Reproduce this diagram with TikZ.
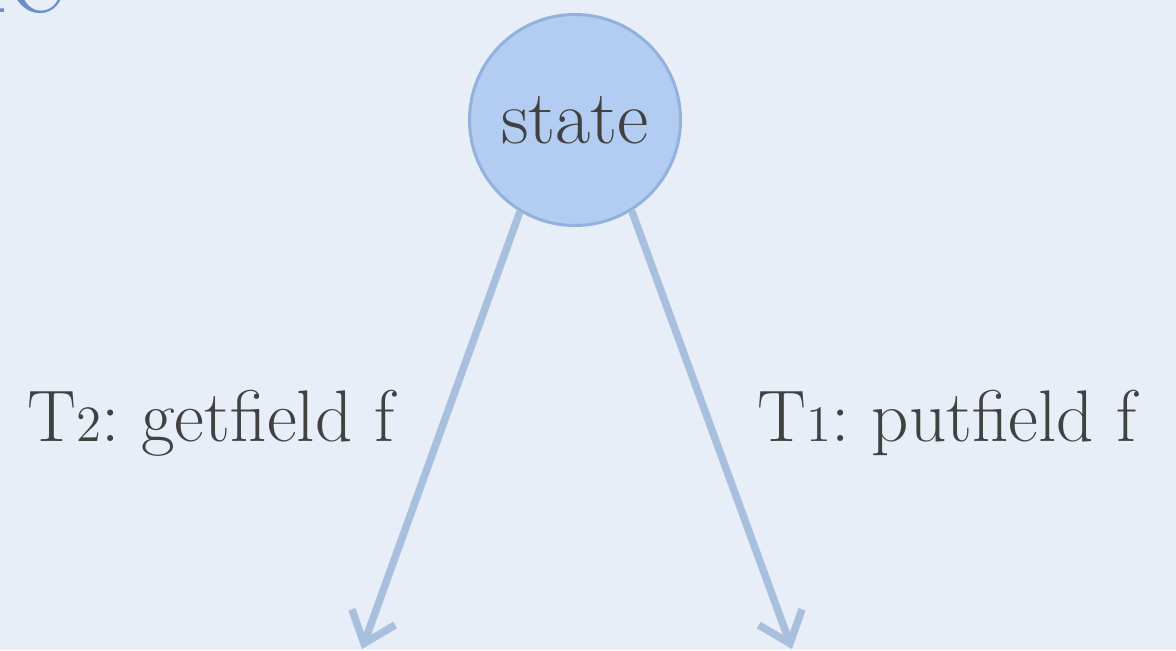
\documentclass[tikz,border=0pt]{standalone}
\usetikzlibrary{arrows.meta,positioning}
\frenchspacing

\definecolor{paper}{HTML}{E7EEF7}
\definecolor{statefill}{HTML}{B2CDF1}
\definecolor{stateline}{HTML}{93B1DC}
\definecolor{arrowblue}{HTML}{A9BFDE}
\definecolor{textgrey}{HTML}{414141}
\definecolor{titleblue}{HTML}{6C8DC9}

\begin{document}
\begin{tikzpicture}[
    state node/.style={circle,fill=statefill,draw=stateline,line width=0.03cm,
        minimum size=2.11cm,inner sep=0pt,text=textgrey,font=\fontsize{21.8}{26}\selectfont},
    label node/.style={text=textgrey,font=\fontsize{20.8}{25}\selectfont,inner sep=0pt},
    arrow/.style={draw=arrowblue,line width=0.075cm,
        -{Straight Barb[length=0.28cm,width=0.46cm]}}
]

% Hintergrund
\useasboundingbox[fill=paper] (0,0) rectangle (11.76,6.50);

% Titel (abgeschnitten)
\node[anchor=base east,text=titleblue,font=\fontsize{40}{44}\selectfont,inner sep=0pt]
    (title) at (0.66,6.37) {le};

% Zustand
\node[state node] (state) at (5.75,5.30) {state};

% Pfeilspitzen
\coordinate (left end) at (3.62,0.01);
\coordinate (right end) at (7.92,0.01);

% Uebergaenge
\draw[arrow] (state.239) -- (left end);
\draw[arrow] (state.302) -- (right end);

% Beschriftungen
\node[label node] (getfield) at (2.11,2.27) {T{\fontsize{14.5}{17}\selectfont 2}: getfield f};
\node[label node] (putfield) at (9.47,2.27) {T{\fontsize{14.5}{17}\selectfont 1}: putfield f};

\end{tikzpicture}
\end{document}
